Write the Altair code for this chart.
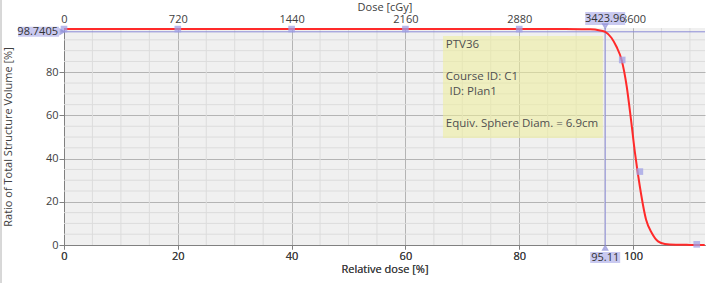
import altair as alt
import pandas as pd

# ---- data ----
rel_dose = [0, 20, 40, 60, 80, 88, 91, 92.5, 94.2, 95.11, 96.2, 97.1, 98.0, 98.9,
            99.65, 100.35, 101.2, 102.3, 103.3, 104.4, 105.6, 107.5, 110, 112.6]
volume = [100, 100, 100, 100, 100, 99.98, 99.95, 99.9, 99.35, 98.74, 96.0, 91.8, 85.7, 73.3,
          57.9, 42.5, 27.1, 11.7, 5.6, 1.7, 0.5, 0.15, 0.05, 0.0]

marker_dose = [0, 20, 40, 60, 80, 98.1, 101.2, 111.2]
marker_vol = [100, 100, 100, 100, 100, 85.7, 34.0, 0.3]

x_ticks = [0, 20, 40, 60, 80, 100]
y_ticks = [0, 20, 40, 60, 80]
dose_ticks_cgy = [0, 720, 1440, 2160, 2880, 3600]
cgy_per_percent = 36  # 100 % = 3600 cGy

cursor_dose = 95.11
cursor_vol = 98.7405
cursor_cgy = "3423.96"

info_lines = ["PTV36", "Course ID: C1", "ID: Plan1", "Equiv. Sphere Diam. = 6.9cm"]
info_line_vol = [92.6, 78.0, 71.0, 56.0]
info_line_indent = [67.1, 67.1, 67.75, 67.1]

# ---- styling ----
FONT = "Open Sans"
TXT = "#404040"
AX = "#808080"
CUR = "#8a8ad6"
BOX = "#c9c9f0"

W, H = 641, 217
X_MAX = 112.65
xs = alt.Scale(domain=[0, X_MAX], nice=False, zero=False)
ys = alt.Scale(domain=[0, 100.5], nice=False, zero=False)
xs_cgy = alt.Scale(domain=[0, X_MAX * cgy_per_percent], nice=False, zero=False)

bottom_axis = alt.Axis(values=x_ticks, title="Relative dose [%]", grid=True,
                       gridColor="#b4b4b4", tickSize=4, labelPadding=1,
                       titleY=24, titleBaseline="middle")
left_axis = alt.Axis(values=y_ticks, title="Ratio of Total Structure Volume [%]",
                     grid=True, gridColor="#b4b4b4", tickSize=5, labelPadding=1,
                     titleX=-56, titleY=H / 2, titleBaseline="middle")
top_axis = alt.Axis(orient="top", values=dose_ticks_cgy, title="Dose [cGy]", format="d",
                    grid=False, ticks=False, domain=False, labelPadding=4,
                    titleY=-21, titleBaseline="middle")

curve_df = pd.DataFrame({"d": rel_dose, "v": volume})
marker_df = pd.DataFrame({"d": marker_dose, "v": marker_vol})
minor_x = pd.DataFrame({"d": [v for v in range(5, 113, 5) if v % 20]})
minor_y = pd.DataFrame({"v": [v for v in range(5, 100, 5) if v % 20]})
info_df = pd.DataFrame({"t": info_lines, "v": info_line_vol, "d": info_line_indent})
box_df = pd.DataFrame({"d": [66.6], "d2": [94.7], "v": [96.8], "v2": [49.6]})
cur_df = pd.DataFrame({"d": [cursor_dose], "v": [cursor_vol],
                       "tv": [f"{cursor_vol}"], "td": [f"{cursor_dose}"], "tc": [cursor_cgy]})
cgy_df = pd.DataFrame({"c": dose_ticks_cgy})


def X(f="d:Q"):
    return alt.X(f, scale=xs, axis=bottom_axis)


def Y(f="v:Q"):
    return alt.Y(f, scale=ys, axis=left_axis)


# minor grid
gx = alt.Chart(minor_x).mark_rule(color="#dcdcdc", strokeWidth=1).encode(x=X())
gy = alt.Chart(minor_y).mark_rule(color="#dcdcdc", strokeWidth=1).encode(y=Y())

# info box
box = alt.Chart(box_df).mark_rect(color="#eeee99", opacity=0.55).encode(
    x=X(), x2="d2:Q", y=Y(), y2="v2:Q")
info = alt.Chart(info_df).mark_text(align="left", baseline="middle", font=FONT,
                                    fontSize=11.5, color="#505050").encode(
    x=X(), y=Y(), text="t:N")

# cursor lines
hline = alt.Chart(cur_df).mark_rule(color=CUR, strokeWidth=1).encode(
    y=Y(), x=alt.value(0), x2=alt.value(W))
vline = alt.Chart(cur_df).mark_rule(color=CUR, strokeWidth=1).encode(
    x=X(), y=alt.value(0), y2=alt.value(H))

# DVH curve
curve = alt.Chart(curve_df).mark_line(color="#ff2a2a", strokeWidth=2,
                                      interpolate="monotone").encode(x=X(), y=Y())

markers = alt.Chart(marker_df).mark_square(color="#a0a0e6", size=44, opacity=0.75).encode(
    x=X(), y=Y())

# left value label
lbox = alt.Chart(cur_df).mark_rect(color=BOX, yOffset=-5, y2Offset=5).encode(
    x=alt.value(-46), x2=alt.value(-5), y=Y(), y2="v:Q")
ltxt = alt.Chart(cur_df).mark_text(align="right", baseline="middle", font=FONT, fontSize=11,
                                   color="#333333").encode(
    x=alt.value(-6), y=Y(), text="tv:N")
lptr = alt.Chart(cur_df).mark_point(shape="triangle-right", filled=False, color=CUR,
                                    size=16).encode(x=alt.value(-2), y=Y())

# bottom value label
bbox = alt.Chart(cur_df).mark_rect(color=BOX, xOffset=-15, x2Offset=15).encode(
    x=X(), x2="d:Q", y=alt.value(H + 7), y2=alt.value(H + 18))
btxt = alt.Chart(cur_df).mark_text(align="center", baseline="middle", font=FONT, fontSize=11,
                                   color="#333333").encode(
    x=X(), y=alt.value(H + 12.5), text="td:N")
bptr = alt.Chart(cur_df).mark_point(shape="triangle-up", filled=False, color=CUR,
                                    size=16).encode(x=X(), y=alt.value(H + 3))

# top value label
tbox = alt.Chart(cur_df).mark_rect(color=BOX, xOffset=-20, x2Offset=20).encode(
    x=X(), x2="d:Q", y=alt.value(-16), y2=alt.value(-3))
ttxt = alt.Chart(cur_df).mark_text(align="center", baseline="middle", font=FONT, fontSize=11,
                                   color="#333333").encode(
    x=X(), y=alt.value(-9.5), text="tc:N")
tptr = alt.Chart(cur_df).mark_point(shape="triangle-down", filled=False, color=CUR,
                                    size=16).encode(x=X(), y=alt.value(-2))

# window border at far left
border = alt.Chart(cur_df).mark_rule(color="#b0b0b0", strokeWidth=1).encode(
    x=alt.value(-63), y=alt.value(-28), y2=alt.value(H + 38))

main = alt.layer(
    gx, gy, box, info, hline, vline, curve, markers,
    lbox, ltxt, lptr, bbox, btxt, bptr, border
)

# invisible layer that carries the top (cGy) axis on its own scale
top = alt.Chart(cgy_df).mark_point(opacity=0).encode(
    x=alt.X("c:Q", scale=xs_cgy, axis=top_axis), y=alt.value(0))

labels_top = alt.layer(tbox, ttxt, tptr)

chart = alt.layer(top, main, labels_top).resolve_scale(x="independent").properties(
    width=W, height=H,
    autosize=alt.AutoSizeParams(type="none"),
    padding={"left": 64, "top": 28, "right": 2, "bottom": 38},
    background="white",
).configure_view(
    fill="#f0f0f0", stroke=None
).configure_axis(
    labelFont=FONT, titleFont=FONT, labelFontSize=11, titleFontSize=11,
    labelColor=TXT, titleColor=TXT, titleFontWeight="normal",
    domainColor=AX, tickColor=AX, labelFlush=False, labelOverlap=False,
)

chart.save("out.html", embed_options={"renderer": "svg", "actions": False})
